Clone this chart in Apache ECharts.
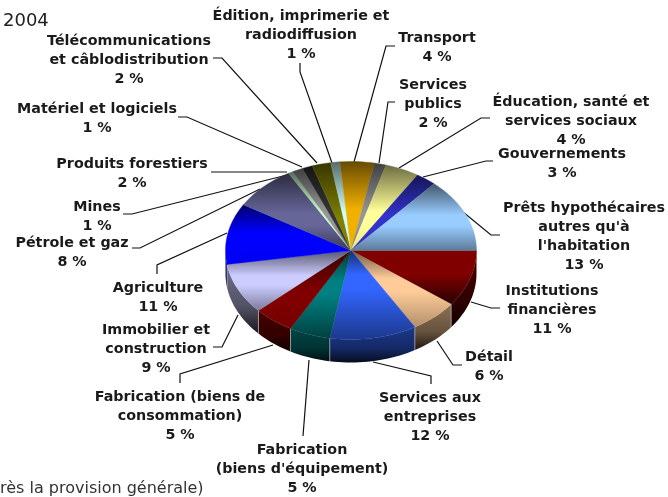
<!DOCTYPE html>
<html>
<head>
<meta charset="utf-8">
<title>Répartition 2004</title>
<script src="https://cdn.jsdelivr.net/npm/echarts@6/dist/echarts.min.js"></script>
<style>
    html, body { margin: 0; padding: 0; background: #fff; }
    #main { width: 668px; height: 497px; }
</style>
</head>
<body>
<div id="main"></div>
<script>
// clockwise from 3 o'clock
var categories = ['Institutions\nfinancières', 'Détail', 'Services aux\nentreprises',
    "Fabrication\n(biens d'équipement)", 'Fabrication (biens de\nconsommation)', 'Immobilier et\nconstruction',
    'Agriculture', 'Pétrole et gaz', 'Mines', 'Produits forestiers', 'Matériel et logiciels',
    'Télécommunications\net câblodistribution', 'Édition, imprimerie et\nradiodiffusion', 'Transport',
    'Services\npublics', 'Éducation, santé et\nservices sociaux', 'Gouvernements',
    "Prêts hypothécaires\nautres qu'à\nl'habitation"];
// printed percentages
var percentLabels = [11, 6, 12, 5, 5, 9, 11, 8, 1, 2, 1, 2, 1, 4, 2, 4, 3, 13];
// slice sizes (the printed labels are rounded)
var sliceShares = [10.3, 6.2, 11.2, 5.3, 5.2, 9.3, 11.1, 8.1, 0.6, 1.4, 1.3, 2.4, 1.2, 4.4, 1.5, 4.4, 2.6, 13.5];

var sliceColors = ['#800000', '#ffcc99', '#3366ff', '#008080', '#800000', '#ccccff', '#0000ff', '#666699',
    '#ccffcc', '#969696', '#333333', '#808000', '#ccffff', '#f2b100', '#969696', '#ffff99', '#3333cc', '#99ccff'];
// where the bright band of the gradient sits inside each slice (0 top, 1 bottom)
var brightStops = [0.02, 0.45, 0.35, 0.42, 0.6, 0.5, 0.55, 0.6, 0.6, 0.6, 0.6, 0.72, 0.65, 0.62, 0.65, 0.62, 0.62, 0.55];
// how far each slice fades back down at its lower edge
var bottomDims = [0.3, 0.7, 0.55, 0.5, 0.9, 0.6, 0.95, 0.55, 1, 0.8, 0.8, 0.9, 0.9, 1, 0.8, 0.9, 0.9, 0.6];

// label layout: centre x, y of first line
var labelPos = [[552, 290], [489, 356], [430, 397], [302, 449], [180, 396], [156, 329], [158, 287], [72, 242],
    [97, 206], [132, 163], [97, 108], [129, 40], [301, 15], [437, 37], [433, 84], [571, 101], [562, 153], [584, 207]];
// leader lines, label end first
var leaderLines = [
    [[500, 308], [491, 308], [471, 302]],
    [[462, 365], [453, 365], [437, 341]],
    [[431, 384], [431, 376], [373, 362]],
    [[303, 436], [309, 360]],
    [[180, 383], [180, 374], [273, 345]],
    [[213, 347], [222, 347], [238, 315]],
    [[157, 274], [157, 265], [227, 233]],
    [[132, 248], [140, 248], [260, 189]],
    [[123, 214], [132, 214], [287, 175]],
    [[211, 172], [287, 172]],
    [[178, 117], [187, 117], [302, 167]],
    [[213, 58], [222, 58], [317, 163]],
    [[300, 63], [300, 72], [332, 163]],
    [[395, 46], [386, 46], [354, 162]],
    [[395, 102], [388, 102], [379, 163]],
    [[490, 118], [481, 118], [399, 168]],
    [[493, 161], [486, 161], [423, 177]],
    [[500, 235], [491, 235], [463, 212]]
];

var CX = 351, CY = 250.5, RX = 125.5, RY = 89, DEPTH = 23;
var LABEL_FONT = '"DejaVu Sans", Verdana, sans-serif';

var total = sliceShares.reduce(function (a, b) { return a + b; }, 0);
var running = 0;
var sliceData = sliceShares.map(function (v, i) {
    var start = running / total * 360;
    running += v;
    return { name: categories[i], value: [start, running / total * 360, v] };
});

function shade(hex, k) {
    var n = parseInt(hex.slice(1), 16);
    var r = Math.round((n >> 16 & 255) * k), g = Math.round((n >> 8 & 255) * k), b = Math.round((n & 255) * k);
    return 'rgb(' + r + ',' + g + ',' + b + ')';
}

function arcPoints(a0, a1, dy) {
    var pts = [];
    var steps = Math.max(2, Math.ceil((a1 - a0) / 2));
    for (var i = 0; i <= steps; i++) {
        var t = (a0 + (a1 - a0) * i / steps) * Math.PI / 180;
        pts.push([CX + RX * Math.cos(t), CY + RY * Math.sin(t) + dy]);
    }
    return pts;
}

function renderSlice(params, api) {
    var i = params.dataIndex;
    var a0 = api.value(0), a1 = api.value(1);
    var color = sliceColors[i];
    var peak = brightStops[i];
    var children = [];

    // side wall, only the front half of the pie shows one
    if (a0 < 180) {
        var end = Math.min(a1, 180);
        var wall = arcPoints(a0, end, 0).concat(arcPoints(a0, end, DEPTH).reverse());
        children.push({
            type: 'polygon',
            shape: { points: wall },
            style: {
                fill: new echarts.graphic.LinearGradient(0, 0, 0, 1, [
                    { offset: 0, color: shade(color, 0.55) },
                    { offset: 0.6, color: shade(color, 0.4) },
                    { offset: 1, color: shade(color, 0.12) }
                ])
            }
        });
        if (i > 0) {
            var p = arcPoints(a0, a0 + 1, 0)[0];
            children.push({
                type: 'line',
                shape: { x1: p[0], y1: p[1], x2: p[0], y2: p[1] + DEPTH },
                style: { stroke: 'rgba(205,205,205,0.7)', lineWidth: 0.8 }
            });
        }
    }

    var isFirst = peak < 0.1;
    var fill = new echarts.graphic.LinearGradient(0, 0, 0, 1, [
        { offset: 0, color: shade(color, isFirst ? 1 : 0.42) },
        { offset: isFirst ? peak : peak - 0.08, color: color },
        { offset: isFirst ? 0.45 : peak + 0.08, color: color },
        { offset: 1, color: shade(color, bottomDims[i]) }
    ]);
    children.push({
        type: 'polygon',
        shape: { points: [[CX, CY]].concat(arcPoints(a0, a1, 0)) },
        style: { fill: fill, stroke: fill, lineWidth: 0.4 }
    });
    return { type: 'group', children: children };
}

var textElements = [
    { type: 'text', x: 3, y: 12, style: { text: '2004', fill: '#222', font: '18px ' + LABEL_FONT } },
    { type: 'text', x: 0, y: 481, style: { text: 'rès la provision générale)', fill: '#333', font: '16px ' + LABEL_FONT } }
];
leaderLines.forEach(function (pts) {
    textElements.push({
        type: 'polyline',
        shape: { points: pts },
        style: { stroke: '#111', lineWidth: 1.2, fill: null }
    });
});
categories.forEach(function (name, i) {
    textElements.push({
        type: 'text',
        x: labelPos[i][0],
        y: labelPos[i][1] - 8,
        style: {
            text: name + '\n' + percentLabels[i] + ' %',
            align: 'center',
            verticalAlign: 'top',
            lineHeight: 19,
            fill: '#1a1a1a',
            font: 'bold 14.3px ' + LABEL_FONT
        }
    });
});

var myChart = echarts.init(document.getElementById('main'));
myChart.setOption({
    backgroundColor: '#fff',
    animation: false,
    graphic: { elements: textElements },
    series: [
        {
            type: 'custom',
            coordinateSystem: 'none',
            renderItem: renderSlice,
            silent: true,
            data: sliceData,
            z: 1
        }
    ]
});
</script>
</body>
</html>
